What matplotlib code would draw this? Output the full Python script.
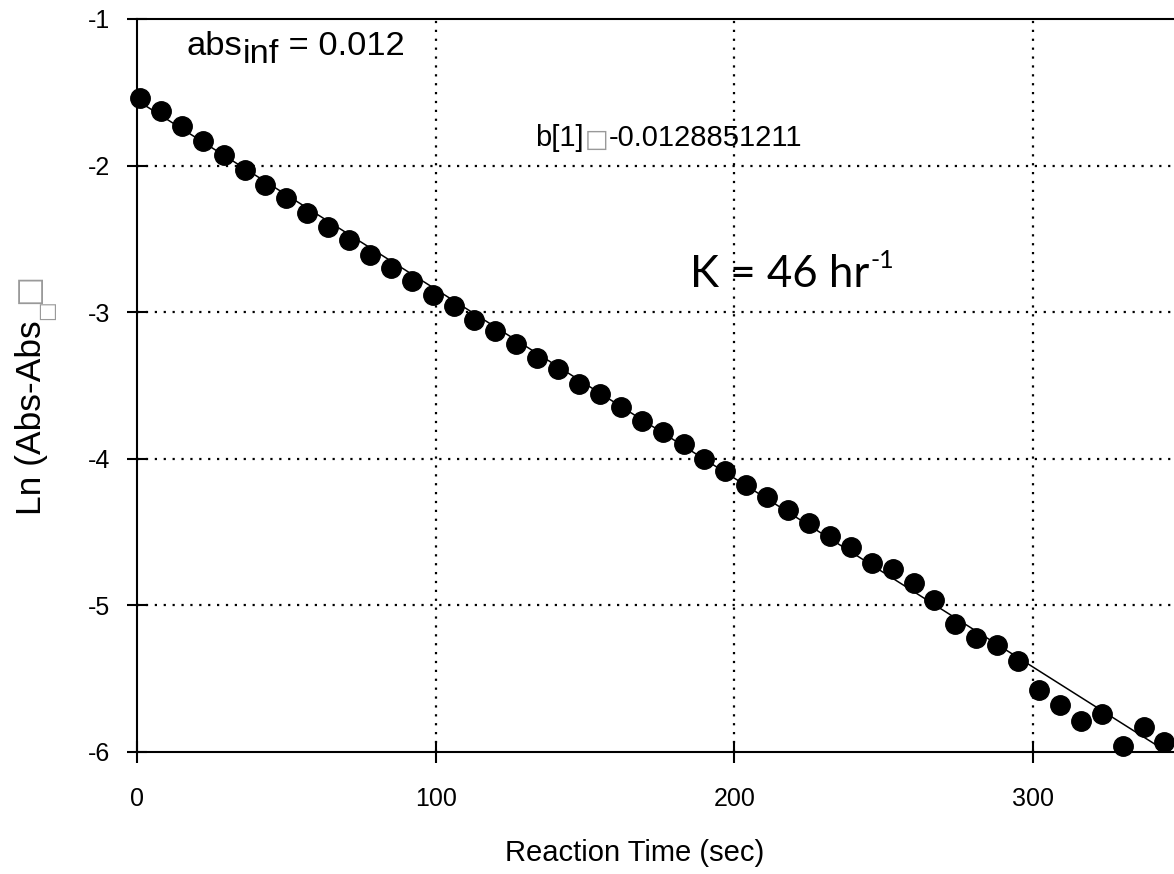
import matplotlib
matplotlib.use("Agg")
import matplotlib.pyplot as plt
import numpy as np

plt.rcParams['font.family'] = ['Liberation Sans', 'DejaVu Sans']

# ---- data ----
time_sec = [1 + 7 * i for i in range(50)]
ln_abs = [-1.54, -1.63, -1.73, -1.83, -1.93, -2.03, -2.13, -2.22, -2.32, -2.42,
          -2.51, -2.61, -2.70, -2.79, -2.88, -2.96, -3.05, -3.13, -3.22, -3.31,
          -3.39, -3.49, -3.56, -3.65, -3.74, -3.82, -3.90, -4.00, -4.08, -4.18,
          -4.26, -4.35, -4.44, -4.53, -4.60, -4.71, -4.75, -4.85, -4.96, -5.13,
          -5.22, -5.27, -5.38, -5.58, -5.68, -5.79, -5.74, -5.96, -5.83, -5.93]
fit_intercept = -1.555
fit_slope = -0.0128851211
x_ticks = [0, 100, 200, 300]
y_ticks = [-1, -2, -3, -4, -5, -6]

W, H = 1174, 874
fig = plt.figure(figsize=(W / 100, H / 100), dpi=100)
L, R, T, B = 137, 1174, 19, 752
ax = fig.add_axes([L / W, (H - B) / H, (R - L) / W, (B - T) / H])

x = np.array(time_sec, dtype=float)
fit_x = np.array([x[0], x[-1]])
ax.plot(fit_x, fit_intercept + fit_slope * fit_x, color='black', lw=1.1, zorder=3)
ax.plot(x, ln_abs, 'o', color='black', ms=14, zorder=4, clip_on=False)

ax.set_xlim(0, (R - L) / ((1033 - 137) / 300))
ax.set_ylim(-6, -1)
ax.set_xticks(x_ticks)
ax.set_yticks(y_ticks)
ax.set_yticklabels([str(v) for v in y_ticks])

for g in [100, 200, 300]:
    ax.axvline(g, color='black', lw=1.6, ls=(0, (1, 3)), dash_capstyle='butt', zorder=1)
for g in [-2, -3, -4, -5]:
    ax.axhline(g, color='black', lw=1.6, ls=(0, (1, 3)), dash_capstyle='butt', zorder=1)

for s in ['left', 'bottom', 'top']:
    ax.spines[s].set_linewidth(1.5)
ax.spines['right'].set_visible(False)
ax.tick_params(axis='x', direction='inout', length=16, width=1.5, labelsize=18, pad=17)
ax.tick_params(axis='y', direction='inout', length=14.4, width=1.5, labelsize=18, pad=12)

# x label
fig.text(635 / W, (H - 853) / H, 'Reaction Time (sec)', fontsize=21, ha='center', va='center')

# y label with missing-glyph boxes
ylab = fig.text(32 / W, (H - 515) / H, 'Ln (Abs-Abs', fontsize=25.5, rotation=90,
                ha='center', va='bottom')
sub_box = ax.annotate('\u25a1', xy=(1, 1), xycoords=ylab, xytext=(8, 0),
                      textcoords='offset pixels', rotation=90, ha='right', va='bottom',
                      fontsize=15, color='#999999', family='DejaVu Sans',
                      annotation_clip=False)
ax.annotate('\u25a1', xy=(1, 1), xycoords=sub_box, xytext=(-12, -3),
            textcoords='offset pixels', rotation=90, ha='right', va='bottom',
            fontsize=23, color='#999999', family='DejaVu Sans', annotation_clip=False)

# abs_inf annotation
t1 = ax.text(16.7, -1.246, 'abs', fontsize=24.8, ha='left', va='baseline')
t2 = ax.annotate('inf', xy=(1, 0), xycoords=t1, xytext=(0, -8),
                 textcoords='offset pixels', fontsize=24.8, ha='left', va='bottom')
ax.annotate(' = 0.012', xy=(1, 0), xycoords=t2, xytext=(0, 8),
            textcoords='offset pixels', fontsize=24.8, ha='left', va='bottom')

# b[1] annotation
b1 = ax.text(133.2, -1.864, 'b[1]', fontsize=21, ha='left', va='baseline')
b2 = ax.annotate('\u25a1', xy=(1, 0), xycoords=b1, xytext=(1, 0),
                 textcoords='offset pixels', fontsize=18, color='#999999',
                 family='DejaVu Sans', ha='left', va='bottom')
ax.annotate('-0.0128851211', xy=(1, 0), xycoords=b2, xytext=(1, 0),
            textcoords='offset pixels', fontsize=21, ha='left', va='bottom')

# K annotation
k1 = ax.text(185.1, -2.828, 'K = 46 hr', fontsize=31.5, family=['Lato', 'DejaVu Sans'],
             ha='left', va='baseline')
ax.annotate('-1', xy=(1, 1), xycoords=k1, xytext=(1, 5),
            textcoords='offset pixels', fontsize=18, family=['Lato', 'DejaVu Sans'],
            ha='left', va='top')

fig.savefig('out.png', dpi=100)
